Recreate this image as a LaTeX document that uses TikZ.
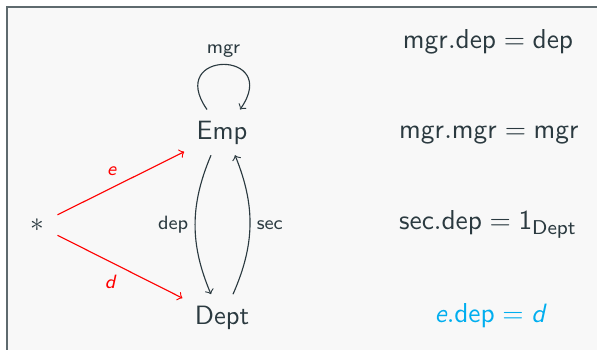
\documentclass[tikz,border=0pt]{standalone}
\usetikzlibrary{arrows}
\DeclareMathSizes{10.6}{10.6}{8}{6}
\definecolor{ink}{HTML}{2B3A40}
\definecolor{framec}{HTML}{5E6A6E}
\definecolor{bgc}{HTML}{F8F8F8}
\definecolor{eqblue}{HTML}{00AEEF}
\tikzset{
  obj/.style={inner sep=3pt, text=ink, font=\sffamily\fontsize{10.6}{12}\selectfont},
  eqn/.style={anchor=base, inner sep=0pt, text=ink, font=\sffamily\fontsize{10.6}{12}\selectfont},
  lbl/.style={inner sep=2.5pt, text=ink, font=\sffamily\fontsize{7.7}{9}\selectfont},
  arr/.style={->, draw=ink, line width=0.45pt},
  redarr/.style={->, draw=red, line width=0.45pt, shorten >=2pt},
}
\begin{document}
\begin{tikzpicture}[x=0.4pt,y=-0.4pt]
\useasboundingbox (0,0) rectangle (597,350);
\fill[white] (0,0) rectangle (597,350);
\fill[bgc] (7,7) rectangle (597,350);
\draw[framec, line width=0.8pt] (7,355) -- (7,7) -- (602,7);

\node[obj] (Emp) at (222,133) {Emp};
\node[obj] (Dept) at (222,318) {Dept};
\node[obj, minimum width=16pt] (star) at (37,225) {$*$};

\draw[redarr] (star) -- node[lbl, text=red, above left] {\itshape e} (Emp);
\draw[redarr] (star) -- node[lbl, text=red, below left] {\itshape d} (Dept);

\draw[arr] ([xshift=-6pt,yshift=1.5pt]Emp.north) .. controls +(-42,-60) and +(42,-60) .. node[lbl, midway, above] {mgr} ([xshift=7.2pt,yshift=1.5pt]Emp.north);

\draw[arr] ([xshift=-4.4pt,yshift=-1pt]Emp.south) to[bend right=23] node[lbl, midway, left] {dep} ([xshift=-4.4pt,yshift=1.6pt]Dept.north);
\draw[arr] ([xshift=4.4pt,yshift=1.6pt]Dept.north) to[bend right=23] node[lbl, midway, right] {sec} ([xshift=5.2pt,yshift=-1pt]Emp.south);

\node[eqn] (eq1) at (488,49) {$\mathsf{mgr.dep} = \mathsf{dep}$};
\node[eqn] (eq2) at (489,139) {$\mathsf{mgr.mgr} = \mathsf{mgr}$};
\node[eqn] (eq3) at (488,230) {$\mathsf{sec.dep} = \mathsf{1}_{\mathsf{Dept}}$};
\node[eqn, text=eqblue] (eq4) at (490,323) {$\mbox{\itshape e}\mathsf{.dep} = \mbox{\itshape d}$};
\end{tikzpicture}
\end{document}
